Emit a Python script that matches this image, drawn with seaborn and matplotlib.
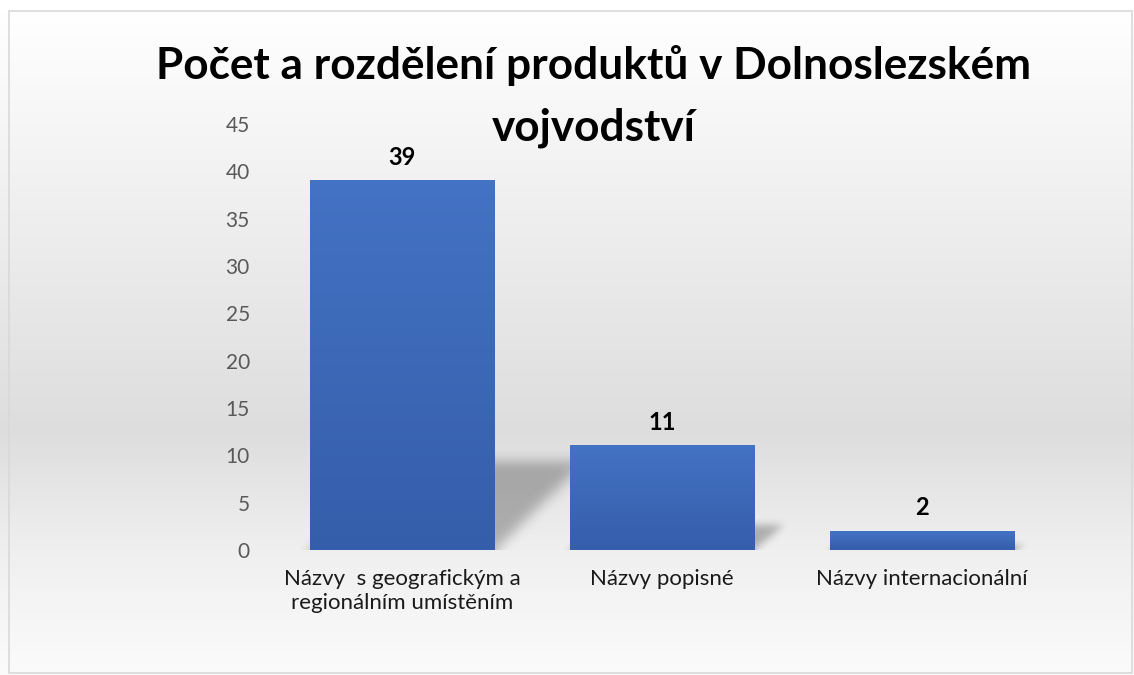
import numpy as np
import matplotlib
matplotlib.use("Agg")
import matplotlib.pyplot as plt
import seaborn as sns
import pandas as pd
from matplotlib.patches import Rectangle

categories = ["Názvy  s geografickým a\nregionálním umístěním", "Názvy popisné", "Názvy internacionální"]
values = [39, 11, 2]
yticks = [0, 5, 10, 15, 20, 25, 30, 35, 40, 45]
title_lines = ["Počet a rozdělení produktů v Dolnoslezském", "vojvodství"]

sns.set_theme(style="white")
plt.rcParams['font.family'] = ['Lato', 'DejaVu Sans']

W, H = 1134, 675
fig = plt.figure(figsize=(W / 100, H / 100), dpi=100)

# background gradient (pixel rows from top)
bg = fig.add_axes([0, 0, 1, 1], zorder=-10)
rows = np.arange(H, dtype=float)
g = np.interp(rows, [0, 11, 430, 553, 675], [1.0, 1.0, 0.868, 0.94, 0.985])
img = np.repeat(g[:, None], 10, axis=1)
bg.imshow(np.dstack([img, img, img]), aspect='auto', extent=[0, 1, 0, 1], origin='upper')
bg.set_xlim(0, 1); bg.set_ylim(0, 1); bg.axis('off')
bg.add_patch(Rectangle((9 / W, 1 - 673 / H), (W - 11) / W, (673 - 11) / H, fill=False,
                       edgecolor='#d9d9d9', linewidth=1.2, transform=bg.transAxes))

# main axes: y 0 -> px 550, 45 -> px 124 ; categories centered at 402, 662, 922
ax_left, ax_right = 272, 1052
ax = fig.add_axes([ax_left / W, 1 - 550 / H, (ax_right - ax_left) / W, (550 - 124) / H])
ax.patch.set_alpha(0)

df = pd.DataFrame({"cat": categories, "val": values})
sns.barplot(data=df, x="cat", y="val", ax=ax, color="#4472C4", width=0.708, saturation=1, zorder=3)
ax.set_ylim(0, 45)
ax.set_xlim(-0.5, 2.5)

px_per_x = (ax_right - ax_left) / 3.0
px_per_y = (550 - 124) / 45.0


def blur1d(a, sigma, axis):
    r = int(3 * sigma) + 1
    k = np.exp(-0.5 * (np.arange(-r, r + 1) / sigma) ** 2)
    k /= k.sum()
    return np.apply_along_axis(lambda m: np.convolve(np.pad(m, r, mode='edge'), k, mode='valid'), axis, a)


for p, v in zip(ax.patches, values):
    x0, w, h = p.get_x(), p.get_width(), p.get_height()
    p.set_visible(False)
    grad = np.linspace(0, 1, 100)[:, None]
    top = np.array([0x44, 0x72, 0xC4]) / 255
    bot = np.array([0x35, 0x5E, 0xAA]) / 255
    cols = top[None, None, :] * (1 - grad[..., None]) + bot[None, None, :] * grad[..., None]
    cols = np.repeat(cols, 2, axis=1)
    ax.imshow(cols, extent=[x0, x0 + w, 0, h], aspect='auto', origin='upper', zorder=3)

    # soft sheared shadow, computed in pixel space
    sh_px = 0.24 * h * px_per_y
    dx_px = 0.95 * sh_px + 6
    margin = 30
    wpx = int(w * px_per_x + dx_px + 2 * margin)
    hpx = int(sh_px + 2 * margin)
    X, Y = np.meshgrid(np.arange(wpx) - margin, np.arange(hpx) - margin)  # Y up from baseline
    t = np.clip(Y / max(sh_px, 1e-6), 0, None)
    left = t * dx_px
    right = w * px_per_x + t * dx_px
    mask = ((X >= left) & (X <= right) & (Y <= sh_px)).astype(float)
    sigma = 3 + 0.035 * sh_px
    mask = blur1d(blur1d(mask, sigma, 0), sigma, 1)
    shadow = np.zeros((hpx, wpx, 4))
    shadow[..., 3] = 0.27 * mask
    ext = [x0 - margin / px_per_x, x0 + (wpx - margin) / px_per_x,
           -margin / px_per_y, (hpx - margin) / px_per_y]
    im = ax.imshow(shadow, extent=ext, aspect='auto', origin='lower', zorder=2)
    im.set_clip_path(ax.patch)

    ax.text(x0 + w / 2, h + 1.7, f"{v}", ha='center', va='baseline', fontsize=17,
            fontweight='bold', color='black', zorder=5)

ax.set_xlim(-0.5, 2.5)
ax.set_ylim(0, 45)
ax.set_yticks(yticks)
ax.set_yticklabels([str(t) for t in yticks], fontsize=15, color='#595959')
ax.set_xticks(range(len(categories)))
ax.set_xticklabels(categories, fontsize=16, color='#1a1a1a', linespacing=1.2)
ax.tick_params(axis='y', length=0, pad=16)
ax.tick_params(axis='x', length=0, pad=14)
ax.set_xlabel(""); ax.set_ylabel("")
for s in ax.spines.values():
    s.set_visible(False)
ax.grid(False)

fig.text(594 / W, 1 - 79 / H, title_lines[0], ha='center', va='baseline', fontsize=31.8,
         fontweight='bold', color='black')
fig.text(594 / W, 1 - 140 / H, title_lines[1], ha='center', va='baseline', fontsize=31.8,
         fontweight='bold', color='black')

fig.savefig("out.png", dpi=100)
